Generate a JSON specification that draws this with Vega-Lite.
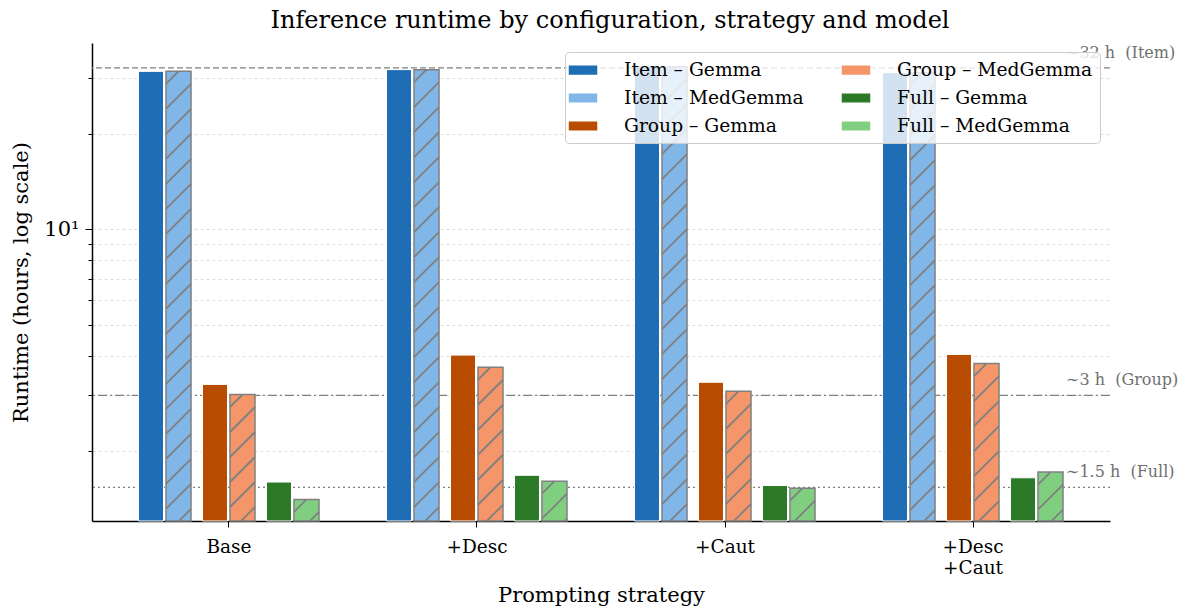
{
  "$schema": "https://vega.github.io/schema/vega-lite/v6.json",
  "width": 1018,
  "height": 478,
  "autosize": {"type": "none"},
  "padding": {"left": 92, "top": 43, "right": 79, "bottom": 87},
  "background": "white",
  "title": {
    "text": "Inference runtime by configuration, strategy and model",
    "font": "DejaVu Serif",
    "fontSize": 24,
    "fontWeight": "normal",
    "color": "black",
    "offset": 10,
    "dx": 9
  },
  "datasets": {
    "runtime": [
      {"strategy": "Base", "config": "Item", "model": "Gemma", "series": "Item – Gemma", "hours": 31.5},
      {"strategy": "Base", "config": "Item", "model": "MedGemma", "series": "Item – MedGemma", "hours": 31.5},
      {"strategy": "Base", "config": "Group", "model": "Gemma", "series": "Group – Gemma", "hours": 3.25},
      {"strategy": "Base", "config": "Group", "model": "MedGemma", "series": "Group – MedGemma", "hours": 3.02},
      {"strategy": "Base", "config": "Full", "model": "Gemma", "series": "Full – Gemma", "hours": 1.60},
      {"strategy": "Base", "config": "Full", "model": "MedGemma", "series": "Full – MedGemma", "hours": 1.41},
      {"strategy": "+Desc", "config": "Item", "model": "Gemma", "series": "Item – Gemma", "hours": 31.9},
      {"strategy": "+Desc", "config": "Item", "model": "MedGemma", "series": "Item – MedGemma", "hours": 31.9},
      {"strategy": "+Desc", "config": "Group", "model": "Gemma", "series": "Group – Gemma", "hours": 4.02},
      {"strategy": "+Desc", "config": "Group", "model": "MedGemma", "series": "Group – MedGemma", "hours": 3.68},
      {"strategy": "+Desc", "config": "Full", "model": "Gemma", "series": "Full – Gemma", "hours": 1.68},
      {"strategy": "+Desc", "config": "Full", "model": "MedGemma", "series": "Full – MedGemma", "hours": 1.61},
      {"strategy": "+Caut", "config": "Item", "model": "Gemma", "series": "Item – Gemma", "hours": 32.8},
      {"strategy": "+Caut", "config": "Item", "model": "MedGemma", "series": "Item – MedGemma", "hours": 32.6},
      {"strategy": "+Caut", "config": "Group", "model": "Gemma", "series": "Group – Gemma", "hours": 3.30},
      {"strategy": "+Caut", "config": "Group", "model": "MedGemma", "series": "Group – MedGemma", "hours": 3.09},
      {"strategy": "+Caut", "config": "Full", "model": "Gemma", "series": "Full – Gemma", "hours": 1.56},
      {"strategy": "+Caut", "config": "Full", "model": "MedGemma", "series": "Full – MedGemma", "hours": 1.53},
      {"strategy": "+Desc\n+Caut", "config": "Item", "model": "Gemma", "series": "Item – Gemma", "hours": 31.2},
      {"strategy": "+Desc\n+Caut", "config": "Item", "model": "MedGemma", "series": "Item – MedGemma", "hours": 31.2},
      {"strategy": "+Desc\n+Caut", "config": "Group", "model": "Gemma", "series": "Group – Gemma", "hours": 4.04},
      {"strategy": "+Desc\n+Caut", "config": "Group", "model": "MedGemma", "series": "Group – MedGemma", "hours": 3.78},
      {"strategy": "+Desc\n+Caut", "config": "Full", "model": "Gemma", "series": "Full – Gemma", "hours": 1.65},
      {"strategy": "+Desc\n+Caut", "config": "Full", "model": "MedGemma", "series": "Full – MedGemma", "hours": 1.72}
    ],
    "refs": [
      {"config": "Item", "hours": 32.3, "label": "∼32 h\u00a0\u00a0(Item)"},
      {"config": "Group", "hours": 3.0, "label": "∼3 h\u00a0\u00a0(Group)"},
      {"config": "Full", "hours": 1.54, "label": "∼1.5 h\u00a0\u00a0(Full)"}
    ]
  },
  "layer": [
    {
      "data": {"name": "refs"},
      "mark": {"type": "rule", "color": "#808080", "strokeWidth": 1.3},
      "encoding": {
        "y": {"field": "hours", "type": "quantitative", "scale": {"type": "log", "domain": [1.206, 38.7], "nice": false, "zero": false}},
        "strokeDash": {
          "field": "config", "type": "nominal",
          "scale": {"domain": ["Item", "Group", "Full"], "range": [[6, 3], [9, 3, 2, 3], [2, 3]]},
          "legend": null
        }
      }
    },
    {
      "data": {"name": "runtime"},
      "transform": [{"filter": "datum.model === 'Gemma'"}],
      "mark": {"type": "bar", "stroke": "white", "strokeWidth": 1},
      "encoding": {
        "x": {
          "field": "strategy", "type": "nominal", "sort": null,
          "scale": {"domain": ["Base", "+Desc", "+Caut", "+Desc\n+Caut"], "paddingInner": 0, "paddingOuter": 0.0524},
          "axis": {
            "title": "Prompting strategy",
            "labelAngle": 0,
            "labelExpr": "split(datum.label, '\\n')",
            "labelLineHeight": 21
          }
        },
        "xOffset": {
          "field": "config", "type": "nominal",
          "scale": {"domain": ["Item", "Group", "Full"], "range": [33.5, 186.5], "paddingInner": 0.609, "paddingOuter": 0}
        },
        "y": {
          "field": "hours", "type": "quantitative", "stack": null,
          "scale": {"type": "log", "domain": [1.206, 38.7], "nice": false, "zero": false},
          "axis": {
            "title": "Runtime (hours, log scale)",
            "values": [2, 3, 4, 5, 6, 7, 8, 9, 10, 20, 30],
            "labelExpr": "datum.value == 10 ? '10¹' : ''",
            "labelFontSize": 21,
            "tickSize": {"condition": {"test": "datum.value == 10", "value": 7}, "value": 4},
            "grid": true
          }
        },
        "y2": {"datum": 1.206},
        "color": {
          "field": "series", "type": "nominal",
          "scale": {
            "domain": ["Item – Gemma", "Item – MedGemma", "Group – Gemma", "Group – MedGemma", "Full – Gemma", "Full – MedGemma"],
            "range": ["#1e6eb6", "#80b7e8", "#b84c00", "#f4966a", "#2c7a28", "#80cf80"]
          },
          "legend": {
            "title": null,
            "orient": "none",
            "legendX": 473,
            "legendY": 9,
            "columns": 2,
            "columnPadding": 34,
            "rowPadding": 7,
            "symbolType": "M-1.5,-0.53h3v1.06h-3z",
            "symbolSize": 400,
            "symbolStrokeWidth": 1.5,
            "symbolOpacity": 1,
            "labelOffset": 30,
            "labelFont": "DejaVu Serif",
            "labelFontSize": 18.7,
            "labelColor": "black",
            "labelLimit": 400,
            "padding": 7,
            "fillColor": "rgba(255,255,255,0.8)",
            "strokeColor": "#cccccc",
            "cornerRadius": 4,
            "encode": {
              "symbols": {
                "stroke": {"condition": {"test": "indexof(datum.value, 'MedGemma') >= 0", "value": "#808080"}, "value": "transparent"},
                "shape": {"condition": {"test": "indexof(datum.value, 'MedGemma') >= 0", "value": "M-1.5,-0.53h3v1.06h-3zM-1.5,-0.27L-1.24,-0.53M-1.1,0.53L-0.04,-0.53M0.1,0.53L1.16,-0.53M1.3,0.53L1.5,0.33"}, "value": "M-1.5,-0.53h3v1.06h-3z"}
              }
            }
          }
        }
      }
    },
    {
      "data": {"name": "runtime"},
      "transform": [{"filter": "datum.model === 'MedGemma'"}],
      "mark": {"type": "bar", "stroke": "#808080", "strokeWidth": 1.5},
      "encoding": {
        "x": {"field": "strategy", "type": "nominal", "sort": null},
        "xOffset": {
          "field": "config", "type": "nominal",
          "scale": {"domain": ["Item", "Group", "Full"], "range": [61, 214], "paddingInner": 0.609, "paddingOuter": 0}
        },
        "y": {"field": "hours", "type": "quantitative", "stack": null},
        "y2": {"datum": 1.206},
        "color": {
          "field": "series", "type": "nominal",
          "legend": {
            "title": null,
            "orient": "none",
            "legendX": 473,
            "legendY": 9,
            "columns": 2,
            "columnPadding": 34,
            "rowPadding": 7,
            "symbolType": "M-1.5,-0.53h3v1.06h-3z",
            "symbolSize": 400,
            "symbolStrokeWidth": 1.5,
            "symbolOpacity": 1,
            "labelOffset": 30,
            "labelFont": "DejaVu Serif",
            "labelFontSize": 18.7,
            "labelColor": "black",
            "labelLimit": 400,
            "padding": 7,
            "fillColor": "rgba(255,255,255,0.8)",
            "strokeColor": "#cccccc",
            "cornerRadius": 4,
            "encode": {
              "symbols": {
                "stroke": {"condition": {"test": "indexof(datum.value, 'MedGemma') >= 0", "value": "#808080"}, "value": "transparent"},
                "shape": {"condition": {"test": "indexof(datum.value, 'MedGemma') >= 0", "value": "M-1.5,-0.53h3v1.06h-3zM-1.5,-0.27L-1.24,-0.53M-1.1,0.53L-0.04,-0.53M0.1,0.53L1.16,-0.53M1.3,0.53L1.5,0.33"}, "value": "M-1.5,-0.53h3v1.06h-3z"}
              }
            }
          }
        }
      }
    },
    {
      "data": {"name": "runtime"},
      "transform": [{"filter": "datum.model === 'MedGemma'"}],
      "mark": {
        "type": "point", "filled": false, "clip": true, "opacity": 1,
        "stroke": "#808080", "strokeWidth": 1.8, "strokeCap": "butt", "size": 4,
        "shape": "M-12.5,12.5L0,0M-12.5,37.5L12.5,12.5M-12.5,62.5L12.5,37.5M-12.5,87.5L12.5,62.5M-12.5,112.5L12.5,87.5M-12.5,137.5L12.5,112.5M-12.5,162.5L12.5,137.5M-12.5,187.5L12.5,162.5M-12.5,212.5L12.5,187.5M-12.5,237.5L12.5,212.5M-12.5,262.5L12.5,237.5M-12.5,287.5L12.5,262.5M-12.5,312.5L12.5,287.5M-12.5,337.5L12.5,312.5M-12.5,362.5L12.5,337.5M-12.5,387.5L12.5,362.5M-12.5,412.5L12.5,387.5M-12.5,437.5L12.5,412.5M-12.5,462.5L12.5,437.5M-12.5,487.5L12.5,462.5"
      },
      "encoding": {
        "x": {"field": "strategy", "type": "nominal", "sort": null},
        "xOffset": {
          "field": "config", "type": "nominal",
          "scale": {"type": "point", "domain": ["Item", "Group", "Full"], "range": [73.5, 201.5], "padding": 0}
        },
        "y": {"field": "hours", "type": "quantitative", "stack": null}
      }
    },
    {
      "data": {"name": "refs"},
      "mark": {"type": "text", "align": "left", "baseline": "alphabetic", "dx": 93, "dy": -10, "font": "DejaVu Serif", "fontSize": 16, "color": "#707070"},
      "encoding": {
        "x": {"datum": "+Desc\n+Caut"},
        "y": {"field": "hours", "type": "quantitative"},
        "text": {"field": "label"}
      }
    }
  ],
  "resolve": {"scale": {"xOffset": "independent"}},
  "config": {
    "view": {"stroke": null},
    "font": "DejaVu Serif",
    "axis": {
      "labelFont": "DejaVu Serif",
      "labelFontSize": 18.5,
      "labelColor": "black",
      "titleFont": "DejaVu Serif",
      "titleFontSize": 21,
      "titleFontWeight": "normal",
      "titleColor": "black",
      "domainColor": "black",
      "domainWidth": 1.5,
      "tickColor": "black",
      "tickWidth": 1,
      "gridColor": "#d3d3d3",
      "gridDash": [3, 3],
      "gridWidth": 0.8
    },
    "axisX": {"grid": false, "tickSize": 6, "labelPadding": 10, "titlePadding": 8},
    "axisY": {"labelPadding": 6, "titlePadding": 12}
  }
}
